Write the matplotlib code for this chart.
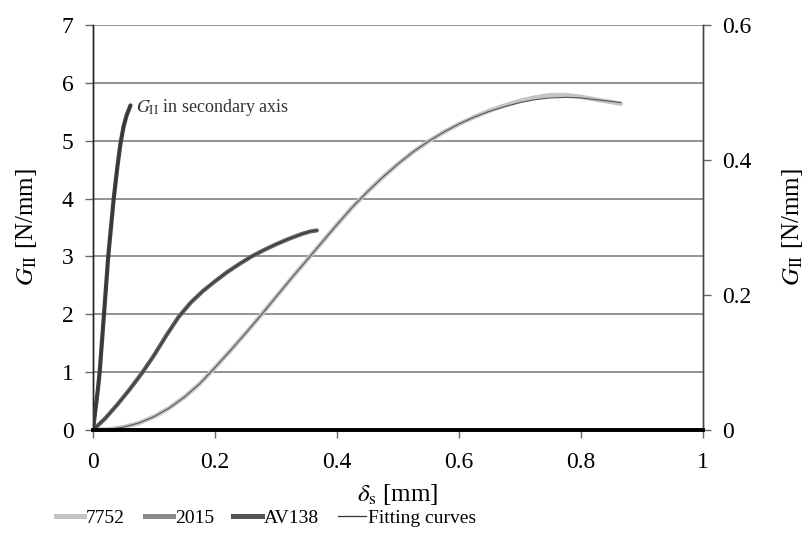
import numpy as np
import matplotlib.pyplot as plt

plt.rcParams['font.family'] = ['Liberation Serif', 'DejaVu Serif']
plt.rcParams['mathtext.fontset'] = 'stix'

# --- Data ---------------------------------------------------------------------

# 7752: primary axis [N/mm]
d_7752 = [0.0, 0.025, 0.05, 0.075, 0.10, 0.125, 0.15, 0.175, 0.20, 0.225,
          0.25, 0.275, 0.30, 0.325, 0.35, 0.375, 0.40, 0.425, 0.45, 0.475,
          0.50, 0.525, 0.55, 0.575, 0.60, 0.625, 0.65, 0.675, 0.70, 0.725,
          0.75, 0.775, 0.80, 0.825, 0.85, 0.865]
g_7752 = [0.0, 0.01, 0.05, 0.12, 0.23, 0.38, 0.57, 0.80, 1.08, 1.37,
          1.67, 1.98, 2.30, 2.62, 2.93, 3.24, 3.55, 3.85, 4.12, 4.37,
          4.60, 4.81, 4.99, 5.15, 5.29, 5.41, 5.52, 5.61, 5.69, 5.75,
          5.79, 5.79, 5.76, 5.71, 5.67, 5.64]
g_7752_fit = [0.0, 0.01, 0.05, 0.12, 0.23, 0.38, 0.57, 0.80, 1.08, 1.37,
              1.67, 1.98, 2.30, 2.62, 2.93, 3.24, 3.55, 3.85, 4.12, 4.37,
              4.60, 4.81, 4.99, 5.15, 5.29, 5.41, 5.51, 5.59, 5.66, 5.71,
              5.74, 5.75, 5.74, 5.71, 5.68, 5.66]

# 2015: primary axis [N/mm]
d_2015 = [0.0, 0.02, 0.04, 0.06, 0.08, 0.10, 0.12, 0.14, 0.16, 0.18,
          0.20, 0.22, 0.24, 0.26, 0.28, 0.30, 0.32, 0.34, 0.355, 0.367]
g_2015 = [0.0, 0.2, 0.44, 0.7, 0.98, 1.29, 1.63, 1.95, 2.2, 2.4,
          2.57, 2.73, 2.87, 3.0, 3.11, 3.21, 3.30, 3.38, 3.43, 3.45]

# AV138: secondary axis [N/mm]
d_av138 = [0.0, 0.004, 0.008, 0.011, 0.018, 0.025, 0.030, 0.034, 0.040,
           0.045, 0.050, 0.055, 0.0615]
g_av138 = [0.0, 0.03, 0.06, 0.086, 0.171, 0.257, 0.305, 0.343, 0.390,
           0.424, 0.449, 0.466, 0.481]

x_ticks = [0, 0.2, 0.4, 0.6, 0.8, 1]
x_labels = ["0", "0.2", "0.4", "0.6", "0.8", "1"]
y1_ticks = [0, 1, 2, 3, 4, 5, 6, 7]
y2_ticks = [0, 0.2, 0.4, 0.6]
y2_labels = ["0", "0.2", "0.4", "0.6"]

# --- Plot ---------------------------------------------------------------------

fs = 17
c_7752, c_2015, c_av = "#c4c4c4", "#646464", "#404040"
fig = plt.figure(figsize=(8.05, 5.45), dpi=100)
ax = fig.add_axes([0.1155, 0.211, 0.7578, 0.743])
ax2 = ax.twinx()

for y in y1_ticks[1:]:
    ax.axhline(y, color="#8a8a8a", lw=1.3, zorder=1)

kw = dict(solid_capstyle="round", solid_joinstyle="round", zorder=3)
ax.plot(d_7752, g_7752, color=c_7752, lw=3.2, **kw)
ax.plot(d_2015, g_2015, color=c_2015, lw=3.0, **kw)
ax2.plot(d_av138, g_av138, color=c_av, lw=3.0, **kw)

# fitting curves (thin)
ax.plot(d_7752, g_7752_fit, color="#555555", lw=0.8, zorder=4)
ax.plot(d_2015, g_2015, color="#333333", lw=0.8, zorder=4)
ax2.plot(d_av138, g_av138, color="#333333", lw=0.8, zorder=4)

ax.text(0.07, 5.57, r"$G_{\mathrm{II}}$ in secondary axis", fontsize=13,
        color="#333333", va="center", ha="left")

ax.set_xlim(0, 1)
ax.set_ylim(0, 7)
ax2.set_ylim(0, 0.6)
ax.set_xticks(x_ticks)
ax.set_xticklabels(x_labels)
ax.set_yticks(y1_ticks)
ax2.set_yticks(y2_ticks)
ax2.set_yticklabels(y2_labels)

for a in (ax, ax2):
    a.spines["top"].set_visible(False)
    a.spines["left"].set_color("#222222")
    a.spines["right"].set_color("#444444")
    a.spines["left"].set_linewidth(1.0)
    a.spines["right"].set_linewidth(1.0)
    a.spines["bottom"].set_linewidth(2.6)
    a.spines["bottom"].set_color("black")
    a.spines["bottom"].set_zorder(5)

ax.tick_params(axis="y", direction="out", length=6, width=1, color="#666666",
               labelsize=fs, pad=8)
ax.tick_params(axis="x", direction="out", length=6, width=1, color="#666666",
               labelsize=fs, pad=10)
ax2.tick_params(axis="y", direction="out", length=6, width=1, color="#666666",
                labelsize=fs, pad=8)

ax.set_ylabel(r"$G_{\mathrm{II}}$ [N/mm]", fontsize=18, labelpad=16)
ax2.set_ylabel(r"$G_{\mathrm{II}}$ [N/mm]", fontsize=18, labelpad=20)
ax.set_xlabel(r"$\delta_{\mathrm{s}}$ [mm]", fontsize=18, labelpad=6)

h1, = ax.plot([], [], color=c_7752, lw=3.6)
h2, = ax.plot([], [], color="#8a8a8a", lw=3.6)
h3, = ax.plot([], [], color="#555555", lw=3.6)
h4, = ax.plot([], [], color="#333333", lw=0.9)
fig.legend([h1, h2, h3, h4], ["7752", "2015", "AV138", "Fitting curves"],
           loc="center left", bbox_to_anchor=(0.06, 0.05), ncol=4,
           frameon=False, fontsize=14, handlelength=1.45, handletextpad=0.1,
           columnspacing=1.0, borderaxespad=0)

fig.savefig("out.png", dpi=100)
